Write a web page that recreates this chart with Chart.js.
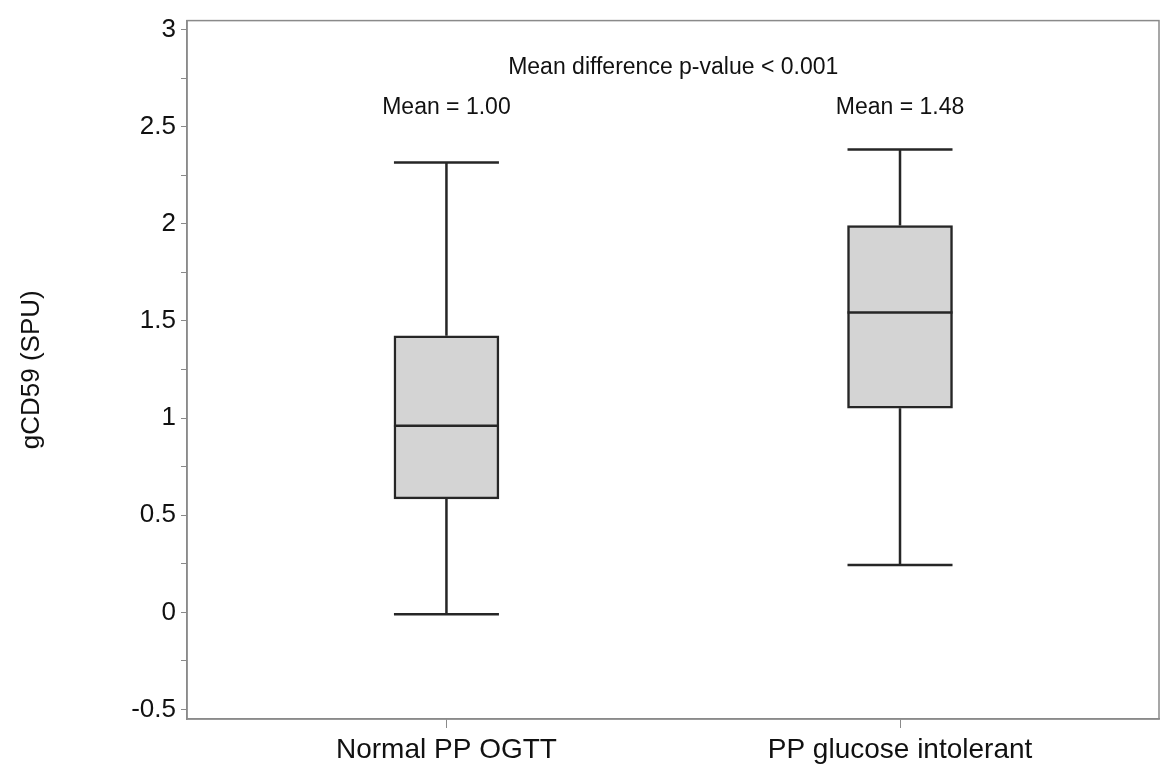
<!DOCTYPE html>
<html>
<head>
<meta charset="utf-8">
<script src="https://cdn.jsdelivr.net/npm/chart.js@4.4.0/dist/chart.umd.min.js"></script>
<style>
    html, body { margin: 0; padding: 0; background: #fff; }
    #box { width: 1160px; height: 773px; }
</style>
</head>
<body>
<div id="box"><canvas id="chart1"></canvas></div>
<script>
// dados
const categorias = ['Normal PP OGTT', 'PP glucose intolerant'];
const bigode_min = [-0.01, 0.244];
const quartil1 = [0.584, 1.051];
const mediana = [0.96, 1.544];
const quartil3 = [1.424, 1.991];
const bigode_max = [2.316, 2.382];
const medias = ['1.00', '1.48'];
const ticks_y = [-0.5, -0.25, 0, 0.25, 0.5, 0.75, 1, 1.25, 1.5, 1.75, 2, 2.25, 2.5, 2.75, 3];
const texto_p = 'Mean difference p-value < 0.001';

const fonte = "'Liberation Sans', Arial, sans-serif";
const cinza = '#8a8a8a';
const escuro = '#262626';

// bigodes, medianas, moldura e textos
const extras = {
    id: 'extras',
    afterDatasetsDraw(chart) {
        const ctx = chart.ctx;
        const x = chart.scales.x;
        const y = chart.scales.y;
        const bars = chart.getDatasetMeta(0).data;
        ctx.save();
        ctx.strokeStyle = escuro;
        ctx.lineWidth = 2.5;
        for (let i = 0; i < categorias.length; i++) {
            const cx = x.getPixelForValue(i + 1);
            const half = bars[i].width / 2;
            ctx.beginPath();
            // bigode de cima
            ctx.moveTo(cx, y.getPixelForValue(quartil3[i]));
            ctx.lineTo(cx, y.getPixelForValue(bigode_max[i]));
            ctx.moveTo(cx - half, y.getPixelForValue(bigode_max[i]));
            ctx.lineTo(cx + half, y.getPixelForValue(bigode_max[i]));
            // bigode de baixo
            ctx.moveTo(cx, y.getPixelForValue(quartil1[i]));
            ctx.lineTo(cx, y.getPixelForValue(bigode_min[i]));
            ctx.moveTo(cx - half, y.getPixelForValue(bigode_min[i]));
            ctx.lineTo(cx + half, y.getPixelForValue(bigode_min[i]));
            // mediana
            ctx.moveTo(cx - half, y.getPixelForValue(mediana[i]));
            ctx.lineTo(cx + half, y.getPixelForValue(mediana[i]));
            ctx.stroke();
        }

        // moldura
        const a = chart.chartArea;
        ctx.strokeStyle = cinza;
        ctx.lineWidth = 1.5;
        ctx.strokeRect(a.left, a.top, a.right - a.left, a.bottom - a.top);

        // textos
        ctx.fillStyle = '#111';
        ctx.textAlign = 'center';
        ctx.textBaseline = 'middle';
        ctx.font = `23px ${fonte}`;
        ctx.fillText(texto_p, x.getPixelForValue(1.5), y.getPixelForValue(2.805));
        for (let i = 0; i < categorias.length; i++) {
            ctx.fillText(`Mean = ${medias[i]}`, x.getPixelForValue(i + 1), y.getPixelForValue(2.6));
        }
        ctx.restore();
    }
};

new Chart(document.getElementById('chart1'), {
    type: 'bar',
    data: {
        datasets: [{
            data: categorias.map((c, i) => ({ x: i + 1, y: [quartil1[i], quartil3[i]] })),
            backgroundColor: '#d4d4d4',
            borderColor: escuro,
            borderWidth: 2.5,
            borderSkipped: false,
            barThickness: 105
        }]
    },
    options: {
        responsive: true,
        maintainAspectRatio: false,
        animation: false,
        layout: { padding: { top: 11, right: 1, left: 0, bottom: 0 } },
        plugins: {
            legend: { display: false },
            tooltip: { enabled: false },
            title: { display: false }
        },
        scales: {
            x: {
                type: 'linear',
                offset: false,
                min: 0.428,
                max: 2.571,
                afterBuildTicks: (s) => { s.ticks = categorias.map((c, i) => ({ value: i + 1 })); },
                afterFit: (s) => { s.height = 54; },
                grid: { offset: false, drawOnChartArea: false, drawTicks: true, tickLength: 9, tickColor: cinza },
                border: { display: true, color: cinza, width: 1.5 },
                ticks: {
                    color: '#111',
                    padding: 5,
                    font: { family: fonte, size: 28 },
                    callback: (v) => categorias[v - 1]
                }
            },
            y: {
                min: -0.549,
                max: 3.046,
                afterBuildTicks: (s) => { s.ticks = ticks_y.map(v => ({ value: v })); },
                afterFit: (s) => { s.width = 187; },
                grid: { drawOnChartArea: false, drawTicks: true, tickLength: 6, tickColor: cinza },
                border: { display: true, color: cinza, width: 1.5 },
                title: {
                    display: true,
                    text: 'gCD59 (SPU)',
                    color: '#111',
                    padding: { top: 16, bottom: 74 },
                    font: { family: fonte, size: 26 }
                },
                ticks: {
                    color: '#111',
                    padding: 5,
                    autoSkip: false,
                    font: { family: fonte, size: 26 },
                    callback: (v) => (Math.abs(v * 2 - Math.round(v * 2)) < 1e-9 ? String(v) : '')
                }
            }
        }
    },
    plugins: [extras]
});
</script>
</body>
</html>
